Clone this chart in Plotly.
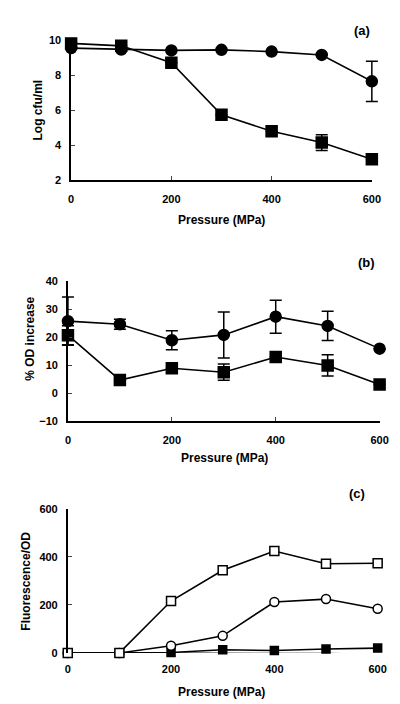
import plotly.graph_objects as go

pressure = [0, 100, 200, 300, 400, 500, 600]

# Panel (a): Log cfu/ml
a_circle = [9.55, 9.47, 9.42, 9.45, 9.35, 9.16, 7.65]
a_circle_err = [0, 0, 0, 0, 0, 0, 1.15]
a_square = [9.82, 9.68, 8.71, 5.74, 4.79, 4.15, 3.19]
a_square_err = [0, 0, 0, 0, 0, 0.45, 0]

# Panel (b): % OD increase
b_circle = [25.7, 24.6, 18.9, 20.8, 27.3, 24.0, 15.9]
b_circle_err = [8.6, 1.8, 3.4, 8.2, 5.9, 5.2, 0]
b_square = [20.7, 4.7, 8.9, 7.5, 12.9, 9.9, 3.1]
b_square_err = [3.4, 0, 0, 2.9, 0, 3.8, 0]

# Panel (c): Fluorescence/OD
c_open_square = [0, 0, 216, 344, 424, 371, 373]
c_open_circle = [0, 0, 30, 71, 212, 224, 184]
c_filled_square = [0, 0, 2, 13, 10, 16, 20]
c_filled_circle = [0, 0, -1, -3, -3, -3, -5]

yticks_a = [2, 4, 6, 8, 10]
yticks_b = [-10, 0, 10, 20, 30, 40]
yticks_c = [0, 200, 400, 600]
xticks = [0, 200, 400, 600]

FONT = "Liberation Sans, Arial, sans-serif"
LW = 1.6
W, H = 400, 704
PAD = 30  # extra x-range for the hidden error-bar axes

fig = go.Figure()

def add(x, y, sym, size, xa, ya, fill="black", msize_line=1.5):
    fig.add_trace(go.Scatter(
        x=x, y=y, mode="lines+markers",
        line=dict(color="black", width=LW),
        marker=dict(symbol=sym, size=size, color=fill,
                    line=dict(color="black", width=msize_line)),
        xaxis=xa, yaxis=ya, cliponaxis=False, showlegend=False))

def add_err(x, y, err, xa, ya):
    fig.add_trace(go.Scatter(
        x=x, y=y, mode="markers", marker=dict(size=1, opacity=0),
        error_y=dict(type="data", array=err, visible=True,
                     color="black", thickness=1.5, width=6),
        xaxis=xa, yaxis=ya, showlegend=False, hoverinfo="skip"))

# (a) error bars on hidden wider axes (x4, y4)
add_err(pressure, a_circle, a_circle_err, "x4", "y4")
add_err(pressure, a_square, a_square_err, "x4", "y4")
add(pressure, a_circle, "circle", 11, "x", "y")
add(pressure, a_square, "square", 11, "x", "y")
# (b)
add_err(pressure, b_circle, b_circle_err, "x5", "y5")
add_err(pressure, b_square, b_square_err, "x5", "y5")
add(pressure, b_circle, "circle", 11, "x2", "y2")
add(pressure, b_square, "square", 11, "x2", "y2")
# (c)
add(pressure, c_filled_circle, "circle", 8, "x3", "y3")
add(pressure, c_filled_square, "square", 8, "x3", "y3")
add(pressure, c_open_circle, "circle", 9, "x3", "y3", fill="white")
add(pressure, c_open_square, "square", 9, "x3", "y3", fill="white")

tickfont = dict(family=FONT, size=11, color="black", weight="bold")

def xax(px0, px1, anchor, showline=True):
    return dict(domain=[px0/W, px1/W], anchor=anchor, range=[0, 600],
                tickvals=xticks, ticks="inside" if showline else "", ticklen=4, tickwidth=1.2,
                showline=showline, linecolor="black", linewidth=1.6,
                showgrid=False, zeroline=False, tickfont=tickfont, ticklabelstandoff=8)

def yax(py_bot, py_top, anchor, rng, tv):
    return dict(domain=[1-py_bot/H, 1-py_top/H], anchor=anchor, range=rng, tickvals=tv,
                ticks="inside", ticklen=4, tickwidth=1.2,
                showline=True, linecolor="black", linewidth=1.6,
                showgrid=False, zeroline=False, tickfont=tickfont, ticklabelstandoff=6)

def hidden_x(px0, px1, anchor):
    s = (px1 - px0) / 600.0
    return dict(domain=[(px0 - PAD*s)/W, (px1 + PAD*s)/W], anchor=anchor,
                range=[-PAD, 600+PAD], visible=False, showgrid=False, zeroline=False)

def hidden_y(py_bot, py_top, anchor, rng):
    return dict(domain=[1-py_bot/H, 1-py_top/H], anchor=anchor, range=rng,
                visible=False, showgrid=False, zeroline=False)

A = (62, 372, 169, 26.7)
B = (58.7, 380, 414.3, 271.7)
C = (58.5, 378, 650, 503.3)

fig.update_layout(
    width=W, height=H,
    margin=dict(l=0, r=0, t=0, b=0),
    paper_bgcolor="white", plot_bgcolor="rgba(0,0,0,0)",
    xaxis=xax(A[0], A[1], "y"),
    yaxis=yax(A[2], A[3], "x", [2, 10], yticks_a),
    xaxis2=xax(B[0], B[1], "y2"),
    yaxis2=yax(B[2], B[3], "x2", [-10, 40], yticks_b),
    xaxis3=xax(C[0], C[1], "y3", showline=False),
    yaxis3=yax(C[2], C[3], "x3", [0, 600], yticks_c),
    xaxis4=hidden_x(A[0], A[1], "y4"),
    yaxis4=hidden_y(A[2], A[3], "x4", [2, 10]),
    xaxis5=hidden_x(B[0], B[1], "y5"),
    yaxis5=hidden_y(B[2], B[3], "x5", [-10, 40]),
)

def ann(text, x, y, size=12, angle=0):
    fig.add_annotation(text=f"<b>{text}</b>", x=x/W, y=1-y/H, xref="paper", yref="paper",
                       showarrow=False, textangle=angle,
                       font=dict(family=FONT, size=size, color="black"),
                       xanchor="center", yanchor="middle")

ann("Pressure (MPa)", 217, 210)
ann("Pressure (MPa)", 220, 452)
ann("Pressure (MPa)", 217, 690)
ann("Log cfu/ml", 28, 98, angle=-90)
ann("% OD increase", 20, 330, angle=-90)
ann("Fluorescence/OD", 16, 577, angle=-90)
ann("(a)", 362, 17, size=13)
ann("(b)", 367, 253, size=13)
ann("(c)", 357, 488, size=13)

fig.write_html("out.html")
